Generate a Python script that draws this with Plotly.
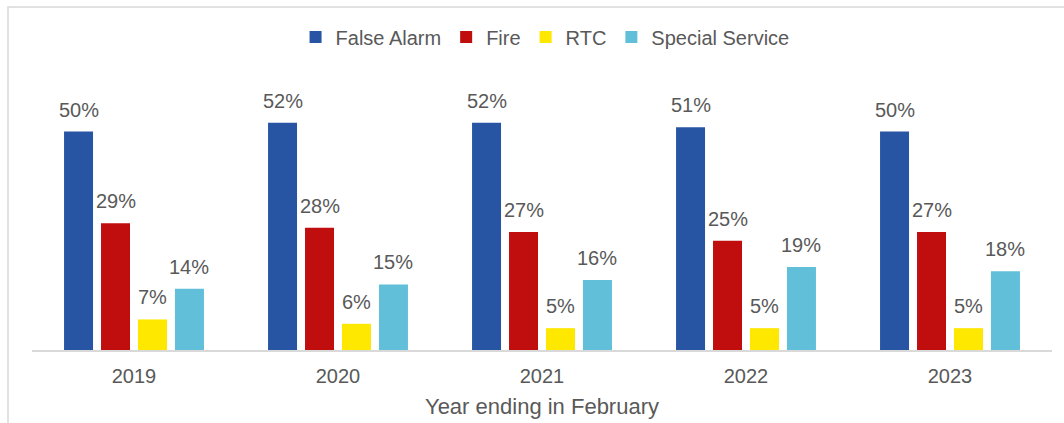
import plotly.graph_objects as go

years = ["2019", "2020", "2021", "2022", "2023"]
false_alarm = [50, 52, 52, 51, 50]
fire = [29, 28, 27, 25, 27]
rtc = [7, 6, 5, 5, 5]
special = [14, 15, 16, 19, 18]

series = [
    ("False Alarm", false_alarm, "#2855A3"),
    ("Fire", fire, "#C00D0D"),
    ("RTC", rtc, "#FFE800"),
    ("Special Service", special, "#62BFD9"),
]

W, H = 1064, 423
ML, MR, MT, MB = 32, 12, 70, 73
BARGAP, GROUPGAP = 0.275, 0.216
plot_w = W - ML - MR
plot_h = H - MT - MB
cat_w = plot_w / len(years)
slot_w = cat_w * (1 - BARGAP) / len(series)

fig = go.Figure()
annotations = []
for i, (name, vals, col) in enumerate(series):
    fig.add_trace(go.Bar(
        x=years, y=vals, name=name, marker_color=col,
        marker_line_width=0, hoverinfo="skip",
    ))
    xshift = (i - (len(series) - 1) / 2) * slot_w
    for j, v in enumerate(vals):
        annotations.append(dict(
            x=j, y=v, xref="x", yref="y", text=f"{v}%", showarrow=False,
            xanchor="center", yanchor="bottom", xshift=xshift, yshift=9,
            font=dict(size=20, color="#595959"),
        ))

fig.update_layout(
    width=W, height=H,
    margin=dict(l=ML, r=MR, t=MT, b=MB),
    paper_bgcolor="white", plot_bgcolor="white",
    font=dict(family="Liberation Sans, Arial, sans-serif", color="#595959", size=20),
    barmode="group", bargap=BARGAP, bargroupgap=GROUPGAP,
    legend=dict(orientation="h", x=0.503, xanchor="center", y=(H - MB - 37) / plot_h, yanchor="middle",
                font=dict(size=20, color="#595959"), traceorder="normal",
                itemwidth=30, tracegroupgap=0),
    xaxis=dict(type="category", range=[-0.5, len(years) - 0.5], showgrid=False, showline=True,
               linecolor="#D9D9D9", linewidth=2, ticklabelstandoff=7, automargin=False,
               tickfont=dict(size=20, color="#595959"), ticks="",
               title=dict(text="Year ending in February", font=dict(size=22, color="#595959"), standoff=13)),
    yaxis=dict(range=[0, 64.1], visible=False),
    annotations=annotations,
    shapes=[dict(type="rect", xref="paper", yref="paper",
                 x0=(8 - ML) / plot_w, x1=1.2, y0=-0.6, y1=(H - MB - 7) / plot_h,
                 line=dict(color="#D9D9D9", width=1.5), fillcolor="rgba(0,0,0,0)", layer="below")],
)

fig.write_html("out.html", config={"displayModeBar": False},
               post_script="document.body.style.margin='0';document.body.style.overflow='hidden';")
